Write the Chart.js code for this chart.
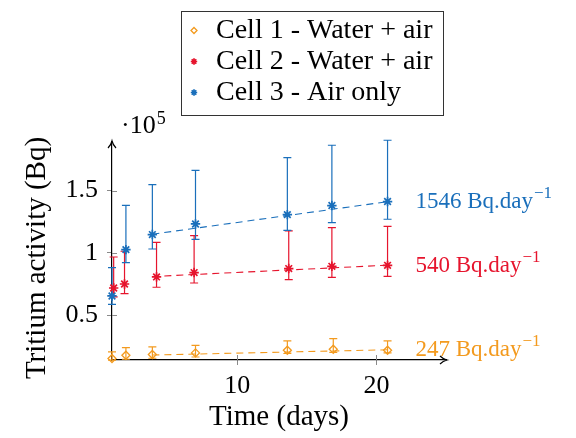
<!DOCTYPE html>
<html>
<head>
<meta charset="utf-8">
<script src="https://cdn.jsdelivr.net/npm/chart.js@4/dist/chart.umd.min.js"></script>
<style>
html,body{margin:0;padding:0;background:#fff;}
#wrap{width:576px;height:438px;}
</style>
</head>
<body>
<div id="wrap"><canvas id="c" width="576" height="438"></canvas></div>
<script>
// ---- data (activity in units of 1e5 Bq) ----
const seriesNames = ["Cell 1 - Water + air", "Cell 2 - Water + air", "Cell 3 - Air only"];
const days1 = [1, 2, 3.9, 7, 13.6, 16.9, 20.8];
const cell1 = [0.152, 0.178, 0.184, 0.197, 0.218, 0.226, 0.218];
const cell1Hi = [0.205, 0.240, 0.245, 0.258, 0.293, 0.312, 0.293];
const cell1Lo = [0.139, 0.146, 0.154, 0.164, 0.192, 0.202, 0.197];

const days2 = [1.12, 1.9, 4.2, 6.9, 13.7, 16.8, 20.8];
const cell2 = [0.718, 0.750, 0.807, 0.842, 0.874, 0.892, 0.900];
const cell2Hi = [0.967, 1.013, 1.085, 1.139, 1.176, 1.203, 1.213];
const cell2Lo = [0.646, 0.673, 0.724, 0.758, 0.786, 0.804, 0.812];

const days3 = [1, 2, 3.9, 7, 13.6, 16.8, 20.8];
const cell3 = [0.654, 1.026, 1.147, 1.232, 1.307, 1.380, 1.412];
const cell3Hi = [0.882, 1.382, 1.548, 1.663, 1.765, 1.864, 1.904];
const cell3Lo = [0.587, 0.922, 1.031, 1.109, 1.181, 1.243, 1.270];

const trendX = [3.9, 20.8];
const trend1 = [0.180, 0.222];
const trend2 = [0.810, 0.901];
const trend3 = [1.150, 1.411];

const slopeLabels = ["247", "540", "1546"];
const slopeLabelX = 22.8;
const slopeLabelY = [0.225, 0.90, 1.414];

const xTicks = [10, 20];
const yTicks = [0.5, 1, 1.5];

const xTitle = "Time (days)";
const yTitle = "Tritium activity (Bq)";

const colors = ["#f39a1e", "#e6142d", "#1a6fbb"];
const FONT = "'Liberation Serif', 'Times New Roman', serif";

function pts(xs, ys) { return xs.map((x, i) => ({x: x, y: ys[i]})); }

const pointStyles = [
  {pointStyle: 'rectRot', radius: 4, borderWidth: 1.3, fill: false},
  {pointStyle: 'star', radius: 4.7, borderWidth: 1.7, fill: true},
  {pointStyle: 'star', radius: 4.7, borderWidth: 1.7, fill: true}
];

const markerData = [[days1, cell1, cell1Hi, cell1Lo], [days2, cell2, cell2Hi, cell2Lo], [days3, cell3, cell3Hi, cell3Lo]];
const trends = [trend1, trend2, trend3];

const datasets = [];
trends.forEach((t, k) => {
  datasets.push({
    label: 'trend' + k, data: pts(trendX, t), showLine: true, borderColor: colors[k],
    borderWidth: 1.1, borderDash: [7, 5], pointRadius: 0, fill: false, clip: false, order: 5
  });
});
markerData.forEach((m, k) => {
  datasets.push({
    label: seriesNames[k], data: pts(m[0], m[1]), showLine: false,
    borderColor: colors[k], backgroundColor: pointStyles[k].fill ? colors[k] : 'rgba(255,255,255,0)',
    pointStyle: pointStyles[k].pointStyle, pointRadius: pointStyles[k].radius,
    pointBorderWidth: pointStyles[k].borderWidth, clip: false,
    errHi: m[2], errLo: m[3], order: 1
  });
});

const errorBars = {
  id: 'errorBars',
  beforeDatasetsDraw(chart) {
    const ctx = chart.ctx, ys = chart.scales.y;
    chart.data.datasets.forEach((ds, di) => {
      if (!ds.errHi) return;
      const meta = chart.getDatasetMeta(di);
      ctx.save();
      ctx.strokeStyle = ds.borderColor;
      ctx.lineWidth = 1.2;
      meta.data.forEach((el, i) => {
        const x = el.x, yt = ys.getPixelForValue(ds.errHi[i]), yb = ys.getPixelForValue(ds.errLo[i]);
        ctx.beginPath();
        ctx.moveTo(x, yt); ctx.lineTo(x, yb);
        ctx.moveTo(x - 4, yt); ctx.lineTo(x + 4, yt);
        ctx.moveTo(x - 4, yb); ctx.lineTo(x + 4, yb);
        ctx.stroke();
      });
      ctx.restore();
    });
  }
};

const decorations = {
  id: 'decorations',
  afterDraw(chart) {
    const ctx = chart.ctx, xs = chart.scales.x, ys = chart.scales.y, a = chart.chartArea;
    ctx.save();
    // inner halves of tick marks
    ctx.strokeStyle = '#8a8a8a'; ctx.lineWidth = 1;
    yTicks.forEach(v => { const y = Math.round(ys.getPixelForValue(v)) + 0.5; ctx.beginPath(); ctx.moveTo(a.left, y); ctx.lineTo(a.left + 5, y); ctx.stroke(); });
    xTicks.forEach(v => { const x = Math.round(xs.getPixelForValue(v)) + 0.5; ctx.beginPath(); ctx.moveTo(x, a.bottom); ctx.lineTo(x, a.bottom - 5); ctx.stroke(); });
    // arrow heads
    ctx.strokeStyle = '#000'; ctx.lineWidth = 1.2;
    ctx.beginPath();
    ctx.moveTo(a.left - 4, a.top + 6); ctx.quadraticCurveTo(a.left - 1, a.top + 3, a.left, a.top - 1);
    ctx.quadraticCurveTo(a.left + 1, a.top + 3, a.left + 4, a.top + 6);
    ctx.stroke();
    ctx.beginPath();
    ctx.moveTo(a.right - 6, a.bottom - 4); ctx.quadraticCurveTo(a.right - 3, a.bottom - 1, a.right + 1, a.bottom);
    ctx.quadraticCurveTo(a.right - 3, a.bottom + 1, a.right - 6, a.bottom + 4);
    ctx.stroke();
    // y title
    ctx.save();
    ctx.translate(37, (a.top + a.bottom) / 2 + 7);
    ctx.rotate(-Math.PI / 2);
    ctx.font = '29px ' + FONT; ctx.fillStyle = '#000';
    ctx.textAlign = 'center'; ctx.textBaseline = 'middle';
    ctx.fillText(yTitle, 0, 0);
    ctx.restore();
    // exponent label
    ctx.fillStyle = '#000'; ctx.textBaseline = 'alphabetic'; ctx.textAlign = 'left';
    ctx.font = '26px ' + FONT;
    ctx.fillText('\u00b710', a.left + 9, a.top - 9);
    const w = ctx.measureText('\u00b710').width;
    ctx.font = '18px ' + FONT;
    ctx.fillText('5', a.left + 9 + w + 1, a.top - 18);
    // slope labels
    slopeLabels.forEach((s, k) => {
      const x = xs.getPixelForValue(slopeLabelX), y = ys.getPixelForValue(slopeLabelY[k]) + 7;
      ctx.fillStyle = colors[k];
      ctx.font = '23px ' + FONT;
      const main = s + ' Bq.day';
      ctx.fillText(main, x, y);
      const mw = ctx.measureText(main).width;
      ctx.font = '17px ' + FONT;
      ctx.fillText('\u22121', x + mw + 1, y - 10);
    });
    // legend
    ctx.strokeStyle = '#333'; ctx.lineWidth = 1;
    ctx.strokeRect(181.5, 11.5, 262, 104);
    const rowY = [30.5, 61.5, 92.5];
    for (let k = 0; k < 3; k++) {
      const ds = chart.data.datasets[3 + k];
      ctx.strokeStyle = ds.borderColor; ctx.fillStyle = ds.backgroundColor; ctx.lineWidth = ds.pointBorderWidth;
      Chart.helpers.drawPoint(ctx, {pointStyle: ds.pointStyle, radius: k === 0 ? 3 : 3.2, borderWidth: ds.pointBorderWidth, rotation: 0}, 194, rowY[k]);
      ctx.font = '28px ' + FONT;
      ctx.fillStyle = '#000'; ctx.textBaseline = 'alphabetic'; ctx.textAlign = 'left';
      ctx.fillText(seriesNames[k], 216, rowY[k] + 7);
    }
    ctx.restore();
  }
};

new Chart(document.getElementById('c'), {
  type: 'scatter',
  data: {datasets: datasets},
  options: {
    responsive: false, animation: false, devicePixelRatio: 1,
    layout: {padding: {top: 142, right: 130, left: 0, bottom: 0}},
    plugins: {legend: {display: false}, tooltip: {enabled: false}},
    scales: {
      x: {
        type: 'linear', min: 1, max: 25,
        afterBuildTicks: s => { s.ticks = xTicks.map(v => ({value: v})); },
        afterFit: s => { s.height = 78; },
        grid: {drawOnChartArea: false, drawTicks: true, tickLength: 5, color: '#8a8a8a'},
        border: {display: true, color: '#000', width: 1.2},
        ticks: {color: '#000', font: {family: FONT, size: 26}, padding: 6, maxRotation: 0},
        title: {display: true, text: xTitle, color: '#000', font: {family: FONT, size: 29, lineHeight: 1.2}, padding: {top: 0, bottom: 3}}
      },
      y: {
        type: 'linear', min: 0.14, max: 1.89,
        afterBuildTicks: s => { s.ticks = yTicks.map(v => ({value: v})); },
        afterFit: s => { s.width = 112; },
        grid: {drawOnChartArea: false, drawTicks: true, tickLength: 5, color: '#8a8a8a'},
        border: {display: true, color: '#000', width: 1.2},
        ticks: {color: '#000', font: {family: FONT, size: 26}, padding: 9, callback: v => String(v)},
        title: {display: false}
      }
    }
  },
  plugins: [errorBars, decorations]
});
</script>
</body>
</html>
